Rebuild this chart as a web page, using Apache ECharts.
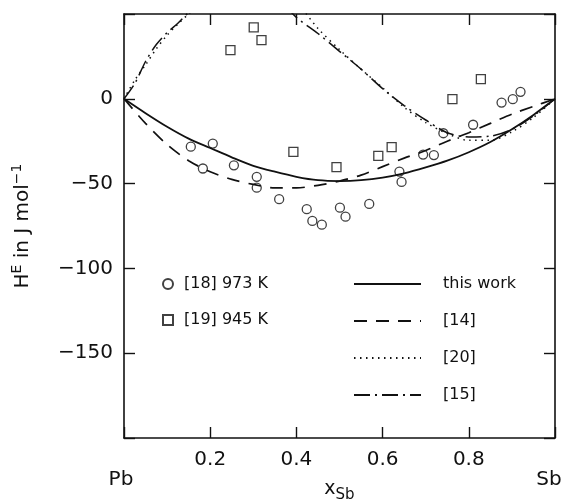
<!DOCTYPE html>
<html>
<head>
<meta charset="utf-8">
<script src="https://cdn.jsdelivr.net/npm/echarts@6/dist/echarts.min.js"></script>
<style>
  html, body { margin: 0; padding: 0; background: #fff; }
  #chart { width: 567px; height: 504px; }
</style>
</head>
<body>
<div id="chart"></div>
<script>
// [18] 973 K (circles)
var circleX = [0.155, 0.183, 0.206, 0.255, 0.308, 0.308, 0.360, 0.424, 0.437, 0.459, 0.501,
               0.514, 0.569, 0.639, 0.644, 0.694, 0.719, 0.741, 0.810, 0.876, 0.902, 0.920];
var circleY = [-28.2, -41.1, -26.4, -39.2, -46.0, -52.4, -59.2, -65.1, -72.0, -74.2, -64.2,
               -69.5, -62.0, -42.9, -49.0, -32.9, -33.2, -20.3, -15.3, -2.2, -0.2, 4.1];
// [19] 945 K (squares)
var squareX = [0.247, 0.301, 0.319, 0.393, 0.493, 0.590, 0.621, 0.762, 0.828];
var squareY = [28.7, 42.1, 34.6, -31.3, -40.3, -33.6, -28.5, -0.2, 11.6];

// curves
var curveX = [0, 0.05, 0.1, 0.15, 0.2, 0.25, 0.3, 0.35, 0.4, 0.45, 0.5,
              0.55, 0.6, 0.65, 0.7, 0.75, 0.8, 0.85, 0.9, 0.95, 1];
var thisWorkY = [0, -8.5, -16.5, -23.5, -29, -34.5, -39.5, -43, -46, -48, -48.5,
                 -48, -46.5, -44, -40.5, -36.5, -31.5, -25.5, -18, -9.5, 0];
var ref14Y = [0, -14.5, -27, -36.5, -43, -47.5, -50.5, -52.5, -52.5, -51, -48.5,
              -45, -40, -35, -30.5, -25, -20, -14.5, -9, -4.5, 0];
var peakX = [0, 0.025, 0.05, 0.075, 0.1, 0.125, 0.15, 0.2, 0.25, 0.3, 0.35, 0.4,
             0.45, 0.5, 0.55, 0.6, 0.65, 0.7, 0.75, 0.8, 0.85, 0.9, 0.95, 1];
var ref20Y = [0, 11, 20, 29.5, 37.5, 44, 50, 60, 67, 70, 67, 57,
              41.5, 29, 17.5, 6.5, -5, -14, -20.5, -24.5, -24.5, -19.5, -11, 0];
var ref15Y = [0, 9, 22, 32, 39, 44.5, 51, 62, 68, 68, 61, 48,
              38.5, 28, 17.5, 6, -4, -12.5, -20, -22.5, -22, -18, -10, 0];

var yTicks = [0, -50, -100, -150];

function pairs(xs, ys) {
  return xs.map(function (x, i) { return [x, ys[i]]; });
}

var font = 'DejaVu Sans';
var ink = '#111';

// frame axis (top / right copy without labels)
function frameAxis(pos, isX) {
  var a = {
    type: 'value',
    position: pos,
    min: isX ? 0 : -200,
    max: isX ? 1 : 50,
    interval: isX ? 0.2 : 50,
    axisLine: { onZero: false, lineStyle: { color: ink, width: 1.6 } },
    axisTick: { inside: true, length: 11, lineStyle: { color: ink, width: 1.4 } },
    splitLine: { show: false },
    axisLabel: { show: false }
  };
  return a;
}

var myChart = echarts.init(document.getElementById('chart'));
var option = {
  backgroundColor: '#fff',
  animation: false,
  textStyle: { fontFamily: font, color: ink },
  grid: { left: 124, right: 12, top: 14, bottom: 66, outerBoundsMode: 'none', containLabel: false },
  legend: [
    {
      data: ['[18] 973 K', '[19] 945 K'],
      orient: 'vertical',
      left: 157,
      top: 271,
      itemWidth: 10,
      itemHeight: 10,
      itemGap: 20,
      textStyle: { fontSize: 16, color: ink, fontFamily: font, padding: [0, 0, 0, 6] }
    },
    {
      data: ['this work', '[14]', '[20]', '[15]'],
      orient: 'vertical',
      left: 348,
      top: 271,
      itemWidth: 67,
      itemHeight: 14,
      itemGap: 21,
      itemStyle: { opacity: 0 },
      textStyle: { fontSize: 16, color: ink, fontFamily: font, padding: [0, 0, 0, 17] }
    }
  ],
  xAxis: [
    {
      type: 'value',
      min: 0,
      max: 1,
      interval: 0.2,
      position: 'bottom',
      name: 'x{s|Sb}',
      nameLocation: 'middle',
      nameGap: 38,
      nameMoveOverlap: false,
      nameTextStyle: {
        fontSize: 19, color: ink, fontFamily: font,
        rich: { s: { fontSize: 15, color: ink, fontFamily: font, padding: [12, 0, 0, 0] } }
      },
      axisLine: { onZero: false, lineStyle: { color: ink, width: 1.6 } },
      axisTick: { inside: true, length: 11, lineStyle: { color: ink, width: 1.4 } },
      splitLine: { show: false },
      axisLabel: {
        fontSize: 20, color: ink, fontFamily: font, margin: 12, lineHeight: 20,
        rich: {
          pb: { fontSize: 20, fontFamily: font, color: ink, padding: [0, 6, 0, 0] },
          sb: { fontSize: 20, fontFamily: font, color: ink, padding: [0, 12, 0, 0] }
        },
        formatter: function (v) {
          if (v === 0) return '\n{pb|Pb}';
          if (v === 1) return '\n{sb|Sb}';
          return v.toFixed(1);
        }
      }
    },
    frameAxis('top', true)
  ],
  yAxis: [
    {
      type: 'value',
      min: -200,
      max: 50,
      interval: 50,
      position: 'left',
      name: 'H{p|E} in J mol{p|−1}',
      nameLocation: 'middle',
      nameGap: 88,
      nameTextStyle: {
        fontSize: 20, color: ink, fontFamily: font, lineHeight: 26,
        rich: { p: { fontSize: 14, color: ink, fontFamily: font, padding: [0, 0, 11, 0] } }
      },
      axisLine: { onZero: false, lineStyle: { color: ink, width: 1.6 } },
      axisTick: { inside: true, length: 11, lineStyle: { color: ink, width: 1.4 } },
      splitLine: { show: false },
      axisLabel: {
        fontSize: 20, color: ink, fontFamily: font, margin: 11,
        formatter: function (v) {
          if (yTicks.indexOf(v) < 0) return '';
          return v < 0 ? '−' + Math.abs(v) : String(v);
        }
      }
    },
    frameAxis('right', false)
  ],
  series: [
    {
      name: '[18] 973 K',
      type: 'scatter',
      symbol: 'circle',
      symbolSize: 9,
      data: pairs(circleX, circleY),
      itemStyle: { color: '#fff', borderColor: ink, borderWidth: 1.3 }
    },
    {
      name: '[19] 945 K',
      type: 'scatter',
      symbol: 'rect',
      symbolSize: 9,
      data: pairs(squareX, squareY),
      itemStyle: { color: '#fff', borderColor: ink, borderWidth: 1.3 }
    },
    {
      name: 'this work',
      type: 'line',
      smooth: 0.3,
      symbol: 'none',
      data: pairs(curveX, thisWorkY),
      itemStyle: { color: ink },
      lineStyle: { color: ink, width: 1.8, type: 'solid' }
    },
    {
      name: '[14]',
      type: 'line',
      smooth: 0.3,
      symbol: 'none',
      data: pairs(curveX, ref14Y),
      itemStyle: { color: ink },
      lineStyle: { color: ink, width: 1.7, type: [13, 9] }
    },
    {
      name: '[20]',
      type: 'line',
      smooth: 0.3,
      symbol: 'none',
      data: pairs(peakX, ref20Y),
      itemStyle: { color: ink },
      lineStyle: { color: ink, width: 1.5, type: [1.5, 4.5] }
    },
    {
      name: '[15]',
      type: 'line',
      smooth: 0.3,
      symbol: 'none',
      data: pairs(peakX, ref15Y),
      itemStyle: { color: ink },
      lineStyle: { color: ink, width: 1.5, type: [16, 5, 2, 5] }
    }
  ]
};
myChart.setOption(option);
</script>
</body>
</html>
